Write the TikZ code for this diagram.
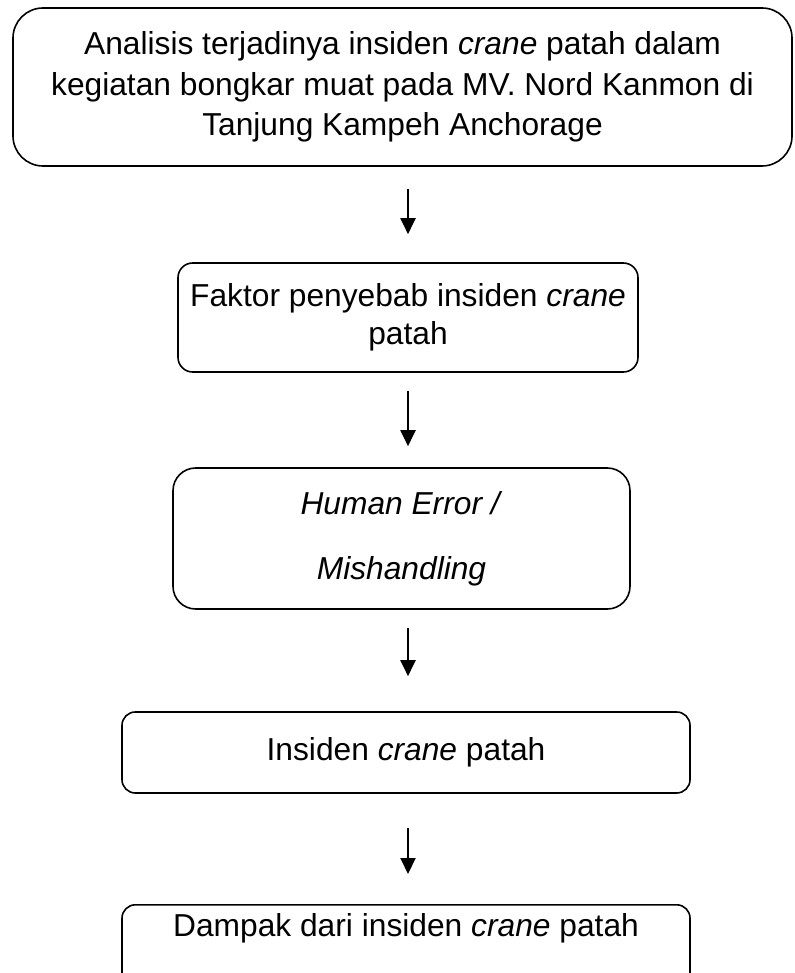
\documentclass[tikz,border=0pt]{standalone}
\usepackage{fontspec}
\setmainfont{Liberation Sans}
\usetikzlibrary{arrows.meta}

\tikzset{
  flowbox/.style={draw, line width=1.2pt, inner sep=0pt, align=center,
    font=\fontsize{23.8}{30.5}\selectfont},
  flowarrow/.style={line width=1.5pt, -{Triangle[width=11.25pt,length=12pt]}}
}

\begin{document}
\begin{tikzpicture}[x=0.75pt,y=0.75pt,yscale=-1,xscale=1]
		\useasboundingbox (0,0) rectangle (794,973); %diagram 794 wide, 973 high
		
		%Box: analisis
		\node [flowbox, rounded corners=22.5pt, minimum width=584.25pt, minimum height=118.5pt] (analisis) at (402.5,87)
		  {Analisis terjadinya insiden \textit{crane} patah dalam\\kegiatan bongkar muat pada MV. Nord Kanmon di\\Tanjung Kampeh Anchorage};
		%Box: faktor
		\node [flowbox, rounded corners=11pt, minimum width=345pt, minimum height=81.75pt] (faktor) at (408,317.5)
		  {Faktor penyebab insiden \textit{crane}\\[-2pt]patah};
		%Box: human error
		\node [flowbox, rounded corners=17pt, minimum width=342.75pt, minimum height=105.75pt] (human) at (401.5,538.5)
		  {\textit{Human Error /}\\[18pt]\textit{Mishandling}};
		%Box: insiden
		\node [flowbox, rounded corners=10pt, minimum width=426pt, minimum height=60.75pt] (insiden) at (406,752.5)
		  {Insiden \textit{crane} patah};
		%Box: dampak (runs off the bottom edge)
		\node [flowbox, rounded corners=10pt, minimum width=426pt, minimum height=72pt, text height=18pt, text depth=42pt, anchor=north] (dampak) at (406,904)
		  {Dampak dari insiden \textit{crane} patah};
		
		%Arrows
		\draw [flowarrow, shorten <=16.5pt, shorten >=21pt] (faktor.north |- analisis.south) -- (faktor.north);
		\draw [flowarrow, shorten <=13.5pt, shorten >=15.75pt] (faktor.south) -- (faktor.south |- human.north);
		\draw [flowarrow, shorten <=13.5pt, shorten >=26.25pt] (faktor.south |- human.south) -- (faktor.south |- insiden.north);
		\draw [flowarrow, shorten <=25.5pt, shorten >=22.5pt] (faktor.south |- insiden.south) -- (faktor.south |- dampak.north);
\end{tikzpicture}
\end{document}
